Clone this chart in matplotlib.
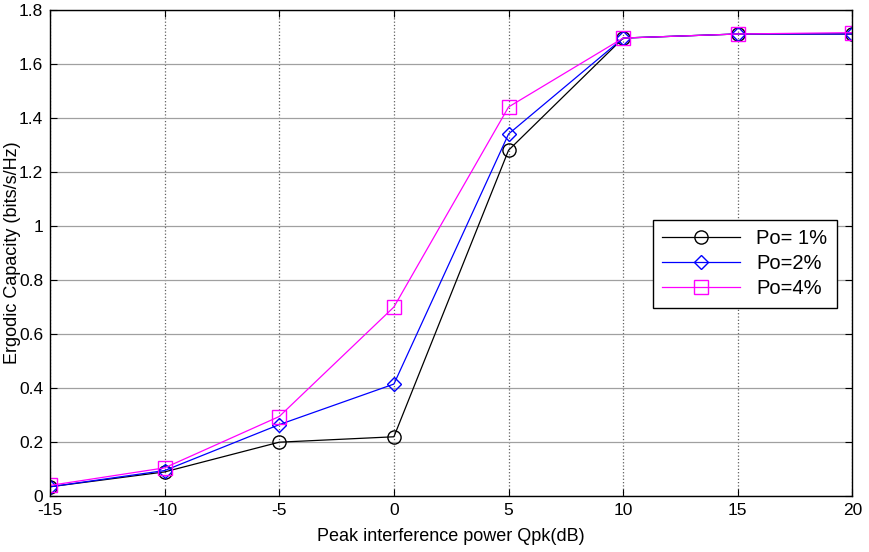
import matplotlib
matplotlib.use("Agg")
import matplotlib.pyplot as plt

x = [-15, -10, -5, 0, 5, 10, 15, 20]
po1 = [0.035, 0.09, 0.20, 0.22, 1.28, 1.695, 1.71, 1.71]
po2 = [0.035, 0.095, 0.265, 0.415, 1.34, 1.695, 1.71, 1.71]
po4 = [0.04, 0.105, 0.295, 0.70, 1.44, 1.695, 1.71, 1.715]
labels = ["Po= 1%", "Po=2%", "Po=4%"]
yticks = [0, 0.2, 0.4, 0.6, 0.8, 1.0, 1.2, 1.4, 1.6, 1.8]
yticklabels = ['0', '0.2', '0.4', '0.6', '0.8', '1', '1.2', '1.4', '1.6', '1.8']

plt.rcParams['font.family'] = ['Liberation Sans', 'DejaVu Sans']
plt.rcParams['axes.unicode_minus'] = False

fig = plt.figure(figsize=(8.69, 5.52), dpi=100)
ax = fig.add_axes([0.0575, 0.101, 0.9235, 0.8815])

ax.plot(x, po1, color='black', marker='o', markerfacecolor='none', markersize=9.5, linewidth=0.9, label=labels[0])
ax.plot(x, po2, color='blue', marker='D', markerfacecolor='none', markersize=7.5, linewidth=0.9, label=labels[1])
ax.plot(x, po4, color='magenta', marker='s', markerfacecolor='none', markersize=9.5, linewidth=0.9, label=labels[2])

ax.set_xlim(-15, 20)
ax.set_ylim(0, 1.8)
ax.set_xticks(x)
ax.set_yticks(yticks)
ax.set_yticklabels(yticklabels)
ax.tick_params(labelsize=12.5, direction='in', length=5, top=True, right=True, pad=5)
ax.xaxis.grid(True, linestyle=':', color='#606060', linewidth=0.9)
ax.yaxis.grid(True, linestyle='-', color='#a0a0a0', linewidth=0.9)
for s in ax.spines.values():
    s.set_linewidth(1.0)

ax.set_xlabel('Peak interference power Qpk(dB)', fontsize=13, labelpad=7)
ax.set_ylabel('Ergodic Capacity (bits/s/Hz)', fontsize=13)
ax.yaxis.set_label_coords(-0.036, 0.5)

leg = ax.legend(loc='upper left', bbox_to_anchor=(0.751, 0.567), borderaxespad=0, fontsize=14.5,
                fancybox=False, edgecolor='black', framealpha=1, handlelength=3.9,
                borderpad=0.45, labelspacing=0.3)
leg.get_frame().set_linewidth(1.0)

fig.savefig('out.png', dpi=100)
